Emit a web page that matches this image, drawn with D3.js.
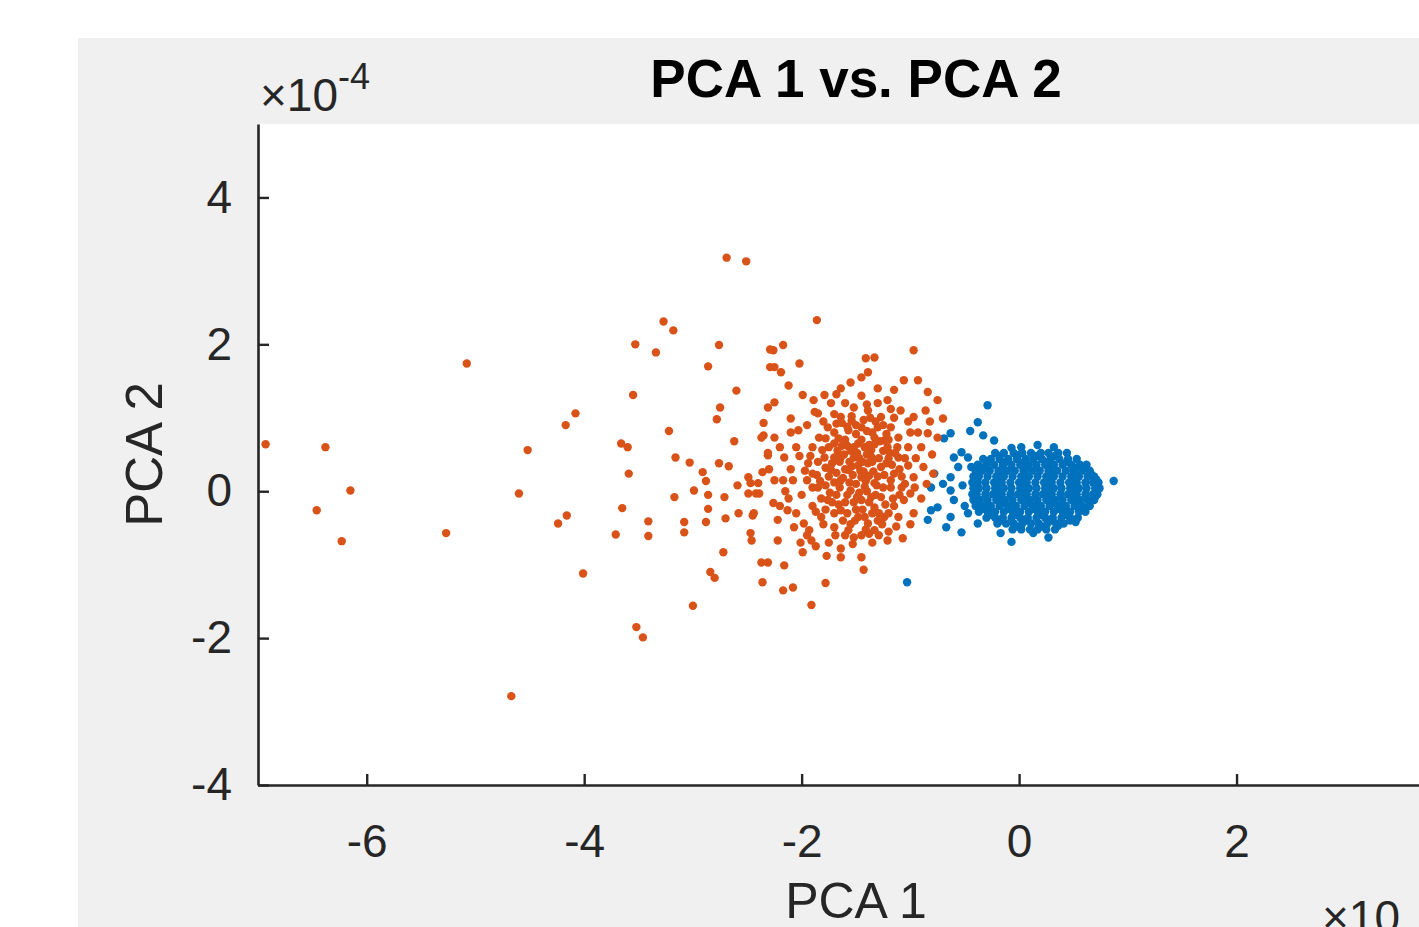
<!DOCTYPE html>
<html><head><meta charset="utf-8">
<script src="https://cdn.jsdelivr.net/npm/d3@7"></script>
<style>body{margin:0;background:#fff}svg{display:block}text{font-family:"Liberation Sans",Arial,Helvetica,sans-serif}</style>
</head><body><svg id="c" width="1419" height="927"></svg>
<script>
// ---- data (PCA 2 values are in units of 1e-4) ----
const title = "PCA 1 vs. PCA 2";
const xLabel = "PCA 1";
const yLabel = "PCA 2";
const xTicks = [-6, -4, -2, 0, 2];
const yTicks = [-4, -2, 0, 2, 4];
const xDomain = [-7, 4];
const yDomain = [-4, 5];
const yExponent = "-4";

const orangeOutliers = [
 [-6.93,0.64],[-6.38,0.60],[-6.15,0.01],[-6.46,-0.26],[-6.23,-0.68],[-5.08,1.74],[-5.27,-0.57],
 [-4.52,0.56],[-4.60,-0.03],[-4.17,0.90],[-4.08,1.06],[-4.16,-0.33],[-4.24,-0.44],[-4.67,-2.79]
];
const orangeMid = [
 [-2.69,3.18],[-2.51,3.13],[-3.27,2.31],[-3.18,2.19],[-3.53,2.00],[-3.34,1.89],[-2.76,1.99],[-2.86,1.70],
 [-2.29,1.93],[-2.29,1.69],[-3.55,1.31],[-2.60,1.37],[-2.75,1.14],[-2.78,0.98],[-2.31,1.14],[-2.35,0.93],
 [-2.35,0.76],[-3.22,0.82],[-3.66,0.65],[-3.60,0.60],[-2.62,0.68],[-2.31,0.52],[-3.16,0.46],[-3.03,0.39],
 [-2.76,0.38],[-2.67,0.34],[-3.59,0.24],[-2.91,0.26],[-2.88,0.14],[-2.59,0.08],[-2.47,0.11],[-2.36,0.26],
 [-2.99,0.01],[-3.17,-0.08],[-2.86,-0.05],[-2.71,-0.08],[-2.49,-0.03],[-2.39,-0.03],[-3.65,-0.23],[-2.86,-0.24],
 [-2.58,-0.30],[-2.45,-0.33],[-3.41,-0.41],[-3.08,-0.42],[-3.08,-0.56],[-2.88,-0.42],[-2.70,-0.37],[-3.71,-0.59],
 [-3.41,-0.61],[-2.47,-0.57],[-2.46,-0.67],[-2.72,-0.83],[-2.37,-0.97],[-2.31,-0.97],[-4.01,-1.12],[-2.84,-1.10],
 [-2.80,-1.18],[-2.36,-1.24],[-3.00,-1.56],[-3.52,-1.85],[-3.46,-1.99],
 [-1.86,2.33],[-0.97,1.92],[-1.41,1.81],[-1.91,-1.55],[-1.43,-1.07]
];
const orangeCore = [
 [-2.26,1.92],[-2.17,1.99],[-2.25,1.69],[-2.19,1.62],[-2.02,1.74],[-1.33,1.82],[-1.39,1.62],[-2.12,1.44],
 [-1.99,1.31],[-1.06,1.51],[-0.93,1.51],[-0.84,1.35],[-0.75,1.24],[-2.25,1.21],[-1.64,1.40],[-1.55,1.48],
 [-1.45,1.55],[-1.21,1.24],[-1.09,1.10],[-0.97,1.01],[-0.86,1.10],[-0.70,0.99],[-0.75,0.73],[-2.10,0.99],
 [-2.37,0.73],[-2.25,0.73],[-2.03,0.83],[-1.85,1.06],[-1.73,1.20],[-1.79,1.31],[-1.89,1.24],[-2.31,0.49],
 [-2.16,0.46],[-2.49,0.19],[-2.40,0.11],[-2.42,-0.03],[-2.25,0.15],[-2.17,0.15],[-2.26,-0.16],[-2.44,-0.30],
 [-2.22,-0.39],[-2.13,-0.26],[-2.07,-0.49],[-1.98,-0.44],[-1.93,-0.53],[-2.22,-0.67],[-1.91,-0.67],[-1.64,-0.78],
 [-1.64,-0.90],[-1.45,-0.90],[-2.16,-1.01],[-1.99,-0.83],[-2.17,-1.35],[-2.08,-1.31],[-1.78,-1.25],[-1.52,-0.63],
 [-1.33,-0.53],[-1.21,-0.67],[-1.07,-0.64],[-0.97,-0.30],[-1.00,-0.03],[-0.97,0.19],[-0.88,0.33],[-0.79,0.24],
 [-1.06,-0.12],[-1.11,-0.35],[-1.85,0.05],[-1.90,0.24],[-1.94,0.38],[-1.90,0.60],[-1.84,0.73],[-1.76,0.87],
 [-1.64,1.01],[-1.52,1.14],[-1.39,1.10],[-1.27,1.01],[-1.18,0.87],[-1.11,0.73],[-1.02,0.60],[-0.90,0.60],
 [-0.84,0.79],[-1.11,0.46],[-1.21,0.60],[-1.33,0.73],[-1.45,0.87],[-1.57,0.83],[-1.70,0.65],[-1.79,0.46],
 [-1.73,0.29],[-1.64,0.15],[-1.55,0.01],[-1.45,-0.12],[-1.33,-0.22],[-1.24,-0.35],[-1.48,-0.35],[-1.64,-0.26],
 [-1.76,-0.12],[-1.82,-0.35],[-1.70,-0.49],[-1.57,-0.53],[-1.39,-0.44],[-1.27,-0.08],[-1.18,0.05],[-1.15,0.24],
 [-1.27,0.33],[-1.39,0.38],[-1.52,0.46],[-1.57,0.29],[-1.45,0.19],[-1.33,0.11],[-1.64,0.46],[-1.48,0.65],
 [-1.36,0.56],[-1.24,0.69],[-1.30,0.87],[-1.43,0.97],[-1.70,0.46],
 [-1.60,0.30],[-1.50,0.10],[-1.40,0.00],[-1.30,0.20],[-1.20,0.45],[-1.10,0.30],[-1.25,0.55],[-1.35,0.80],
 [-1.50,0.90],[-1.60,0.70],[-1.75,0.60],[-1.85,0.40],[-1.95,0.15],[-2.00,-0.05],[-1.90,-0.20],[-1.80,-0.45],
 [-1.70,-0.30],[-1.55,-0.45],[-1.45,-0.60],[-1.30,-0.40],[-1.15,-0.20],[-1.05,0.10],[-0.95,0.45],[-1.00,0.80],
 [-1.15,1.00],[-1.30,1.20],[-1.45,1.30],[-1.60,1.20],[-1.70,1.05],[-1.95,0.90],[-2.05,0.60],[-2.10,0.30],
 [-2.05,-0.30],[-1.95,-0.60],[-1.75,-0.70],[-1.60,-0.60],[-1.35,-0.70],[-1.20,-0.55],[-1.00,-0.45],[-0.90,-0.10],
 [-0.85,0.10],[-1.40,0.50],[-1.55,0.55],[-1.65,0.40],[-1.75,0.20],[-1.65,0.05],[-1.52,-0.15],[-1.38,-0.15],
 [-1.25,0.05],[-1.18,0.15],[-1.45,0.70],[-1.58,0.88],[-1.70,0.80],[-1.80,0.95],[-1.25,0.90],[-1.12,0.60],
 [-1.02,0.35],[-1.90,0.05],[-1.82,-0.10],[-2.15,0.00],[-2.20,-0.20],[-2.30,0.30],[-2.10,0.80],[-1.60,-0.15],
 [-1.48,0.35],[-1.35,0.40],[-1.28,0.68],[-1.62,0.18],[-1.72,-0.15],[-1.42,-0.35],
 [-1.53,0.22],[-1.43,0.27],[-1.34,0.27],[-1.58,0.62],[-1.67,0.55],[-1.50,0.78],[-1.38,0.63],[-1.22,0.38],
 [-1.32,-0.05],[-1.47,-0.02],[-1.58,-0.05],[-1.68,-0.05],[-1.78,0.08],[-1.86,0.22],[-1.92,0.48],[-1.81,0.56],
 [-1.20,-0.30],[-1.35,-0.30],[-1.50,-0.25],[-1.62,-0.40],[-1.10,-0.05],[-1.05,0.45],
 [-1.56,0.40],[-1.47,0.45],[-1.41,0.14],[-1.52,0.60],[-1.63,0.93],[-1.37,1.00],[-1.22,0.78],[-1.14,0.52],
 [-1.08,0.20],[-1.23,-0.18],[-1.41,-0.52],[-1.53,-0.72],[-1.69,-0.60],[-1.87,-0.28],[-1.97,0.28],[-2.02,0.48],
 [-1.78,0.72],[-1.66,0.72],[-1.54,1.02],[-1.40,1.18],[-1.18,1.12],[-1.02,0.95],[-0.93,0.80],[-0.96,0.05],
 [-1.13,-0.48],[-1.29,-0.60],[-1.77,-0.88],[-1.87,-0.75],[-2.01,-0.70],[-2.12,-0.10],[-2.08,0.15],[-2.20,0.60],
 [-1.88,1.08],[-1.68,1.32],[-1.30,1.40],[-1.15,1.38],[-0.82,0.95],[-0.80,0.50],
 [-1.44,0.40],[-1.36,0.47],[-1.29,0.45],[-1.49,0.52],[-1.61,0.50],[-1.54,0.34],[-1.46,0.28],[-1.38,0.21],
 [-1.31,0.08],[-1.42,0.06],[-1.56,0.12],[-1.68,0.25],[-1.72,0.38],[-1.63,0.62],[-1.42,0.60],[-1.33,0.64],
 [-1.19,0.52],[-1.17,0.36],[-1.24,0.22],[-1.36,-0.08],[-1.49,-0.08],[-1.58,-0.30],[-1.44,-0.25],[-1.29,-0.30],
 [-1.16,-0.10],[-1.08,0.05],[-1.68,0.92],[-1.54,0.96],[-1.40,0.82],[-1.32,0.95],[-1.78,0.32],[-1.83,0.14],
 [-1.74,-0.02],[-1.66,-0.18],[-1.78,-0.25],[-1.51,-0.40],[-1.38,-0.58],[-1.26,-0.45],[-1.70,0.12],[-1.20,0.70]
];
const blueSparse = [
 [-0.29,1.17],[-0.38,0.94],[-0.45,0.82],[-0.63,0.79],[-0.69,0.72],[-0.33,0.76],[-0.23,0.69],[-0.07,0.59],
 [0.02,0.60],[0.17,0.63],[0.32,0.60],[0.87,0.14],[0.52,-0.42],[0.27,-0.63],[0.13,-0.57],[-0.07,-0.69],
 [-0.17,-0.57],[-0.53,-0.56],[-0.67,-0.49],[-0.84,-0.39],[-0.81,-0.26],[-0.75,-0.22],[-0.63,-0.35],[-0.78,0.24],
 [-0.81,0.05],[-0.63,0.01],[-0.63,0.19],[-0.60,0.46],[-0.53,0.53],[-0.47,0.46],[-0.44,0.33],[-0.56,0.33],
 [-0.60,-0.12],[-0.47,-0.30],[-0.38,-0.44],[-1.03,-1.24],[-0.52,0.08],[-0.50,-0.20],[-0.70,0.10]
];
const blueCoreRows = [
 [0.52, [-0.22,-0.14,-0.05,0.03,0.11,0.20,0.27,0.36,0.44]],
 [0.44, [-0.33,-0.26,-0.18,-0.10,-0.02,0.06,0.13,0.21,0.29,0.37,0.45,0.53]],
 [0.36, [-0.38,-0.30,-0.23,-0.15,-0.07,0.01,0.09,0.16,0.24,0.32,0.40,0.48,0.56,0.62]],
 [0.28, [-0.40,-0.34,-0.27,-0.19,-0.11,-0.04,0.04,0.12,0.19,0.27,0.35,0.43,0.50,0.58,0.65]],
 [0.20, [-0.42,-0.37,-0.29,-0.21,-0.14,-0.06,0.02,0.09,0.17,0.25,0.32,0.40,0.48,0.55,0.63,0.69]],
 [0.12, [-0.43,-0.38,-0.31,-0.23,-0.16,-0.08,0.00,0.07,0.15,0.23,0.30,0.38,0.46,0.53,0.61,0.68,0.73]],
 [0.04, [-0.42,-0.37,-0.30,-0.22,-0.14,-0.07,0.01,0.09,0.16,0.24,0.32,0.39,0.47,0.55,0.62,0.70,0.74]],
 [-0.04,[-0.43,-0.39,-0.31,-0.24,-0.16,-0.08,-0.01,0.07,0.15,0.22,0.30,0.38,0.45,0.53,0.61,0.68,0.72]],
 [-0.12,[-0.42,-0.36,-0.29,-0.21,-0.13,-0.06,0.02,0.10,0.17,0.25,0.33,0.40,0.48,0.56,0.63,0.69]],
 [-0.20,[-0.40,-0.33,-0.26,-0.18,-0.10,-0.03,0.05,0.13,0.20,0.28,0.36,0.43,0.51,0.58,0.65]],
 [-0.28,[-0.37,-0.29,-0.22,-0.14,-0.06,0.01,0.09,0.17,0.24,0.32,0.40,0.47,0.55,0.61]],
 [-0.36,[-0.30,-0.22,-0.15,-0.07,0.01,0.08,0.16,0.24,0.31,0.39,0.47,0.54]],
 [-0.44,[-0.20,-0.12,-0.05,0.03,0.11,0.18,0.26,0.34,0.41]],
 [-0.52,[-0.06,0.02,0.10,0.17,0.25,0.33]]
];
const blueCoreFill = [
 [-0.18,0.48],[-0.01,0.49],[0.16,0.48],[0.33,0.48],[-0.30,0.40],[-0.12,0.40],[0.05,0.40],[0.25,0.40],[0.44,0.40],
 [-0.34,0.32],[-0.15,0.32],[0.06,0.32],[0.28,0.32],[0.52,0.32],[-0.38,0.24],[-0.17,0.24],[0.05,0.24],[0.29,0.24],
 [0.51,0.24],[0.66,0.24],[-0.40,0.16],[-0.19,0.16],[0.04,0.16],[0.27,0.16],[0.50,0.16],[0.71,0.16],[-0.40,0.08],
 [-0.18,0.08],[0.05,0.08],[0.28,0.08],[0.51,0.08],[0.72,0.08],[-0.41,0.00],[-0.20,0.00],[0.03,0.00],[0.26,0.00],
 [0.49,0.00],[0.71,0.00],[-0.40,-0.08],[-0.17,-0.08],[0.06,-0.08],[0.29,-0.08],[0.52,-0.08],[0.70,-0.08],
 [-0.38,-0.16],[-0.14,-0.16],[0.09,-0.16],[0.32,-0.16],[0.55,-0.16],[-0.33,-0.24],[-0.10,-0.24],[0.13,-0.24],
 [0.36,-0.24],[0.58,-0.24],[-0.26,-0.32],[-0.03,-0.32],[0.20,-0.32],[0.43,-0.32],[-0.16,-0.40],[0.07,-0.40],
 [0.30,-0.40],[0.47,-0.40],[-0.02,-0.48],[0.21,-0.48],[0.36,-0.47]
];
const colors = {blue: "#0072BD", orange: "#D95319"};

// ---- build ----
const orange = orangeOutliers.concat(orangeMid, orangeCore);
const blue = blueSparse.concat(blueCoreRows.flatMap(([y, xs]) => xs.map(x => [x, y])), blueCoreFill);

const svg = d3.select("#c");
const W = 1419, H = 927;
const fig = {x: 78, y: 38};
const ax = {left: 258, top: 124, bottom: 785, right: 1454};

svg.append("rect").attr("x", fig.x).attr("y", fig.y).attr("width", W - fig.x).attr("height", H - fig.y).attr("fill", "#f0f0f0");
svg.append("rect").attr("x", ax.left).attr("y", ax.top).attr("width", ax.right - ax.left).attr("height", ax.bottom - ax.top).attr("fill", "#fff");

const x = d3.scaleLinear().domain(xDomain).range([ax.left, ax.right]);
const y = d3.scaleLinear().domain(yDomain).range([ax.bottom, ax.top]);

svg.append("clipPath").attr("id", "clip").append("rect")
  .attr("x", ax.left).attr("y", ax.top).attr("width", ax.right - ax.left).attr("height", ax.bottom - ax.top);

const R = 4.2;
const pts = svg.append("g").attr("clip-path", "url(#clip)");
pts.selectAll("circle.b").data(blue).join("circle").attr("class", "b")
  .attr("cx", d => x(d[0])).attr("cy", d => y(d[1])).attr("r", R).attr("fill", colors.blue);
pts.selectAll("circle.o").data(orange).join("circle").attr("class", "o")
  .attr("cx", d => x(d[0])).attr("cy", d => y(d[1])).attr("r", R).attr("fill", colors.orange);

const axisColor = "#262626";
const fs = 46;
const gx = svg.append("g").attr("transform", `translate(0,${ax.bottom})`)
  .call(d3.axisBottom(x).tickValues(xTicks).tickFormat(d => d).tickSizeInner(-11).tickSizeOuter(0).tickPadding(39));
const gy = svg.append("g").attr("transform", `translate(${ax.left},0)`)
  .call(d3.axisLeft(y).tickValues(yTicks).tickFormat(d => d).tickSizeInner(-11).tickSizeOuter(0).tickPadding(26));
[gx, gy].forEach(g => {
  g.select(".domain").attr("stroke", axisColor).attr("stroke-width", 2.6);
  g.selectAll(".tick line").attr("stroke", axisColor).attr("stroke-width", 2.4);
  g.selectAll(".tick text").attr("fill", axisColor).style("font-size", fs + "px")
   .style("font-family", '"Liberation Sans",Arial,Helvetica,sans-serif');
});
gx.selectAll(".tick text").text(d => d < 0 ? "-" + Math.abs(d) : d);
gy.selectAll(".tick text").text(d => d < 0 ? "-" + Math.abs(d) : d);

// exponent label for y
const ex = svg.append("text").attr("x", 260).attr("y", 111).attr("fill", axisColor).style("font-size", fs + "px");
ex.append("tspan").text("×10");
ex.append("tspan").attr("dy", -22).style("font-size", "36px").text(yExponent);

// x exponent (cut off at the bottom right, as in the reference)
svg.append("text").attr("x", 1322).attr("y", 933).attr("fill", axisColor).style("font-size", fs + "px").text("×10");

// title
svg.append("text").attr("x", (ax.left + ax.right) / 2).attr("y", 97).attr("text-anchor", "middle")
  .attr("fill", "#000").style("font-size", "53px").style("font-weight", "bold").text(title);

// axis labels
svg.append("text").attr("x", (ax.left + ax.right) / 2).attr("y", 918).attr("text-anchor", "middle")
  .attr("fill", axisColor).style("font-size", "50px").text(xLabel);
svg.append("text").attr("transform", `translate(162,${(ax.top + ax.bottom) / 2}) rotate(-90)`).attr("text-anchor", "middle")
  .attr("fill", axisColor).style("font-size", "51px").text(yLabel);
</script></body></html>
